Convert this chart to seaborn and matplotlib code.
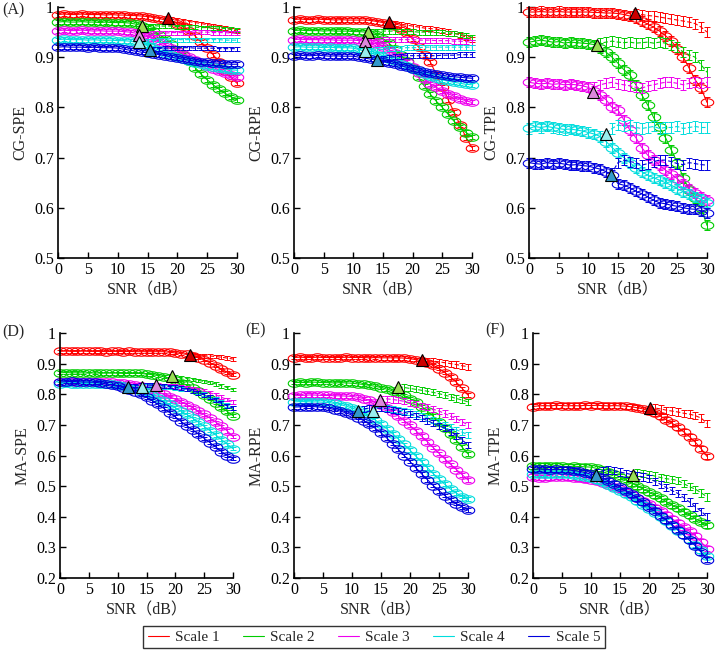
import numpy as np
import pandas as pd
import seaborn as sns
import matplotlib.pyplot as plt
from matplotlib.path import Path
from matplotlib.lines import Line2D

snr = list(range(31))
scales = ['Scale 1', 'Scale 2', 'Scale 3', 'Scale 4', 'Scale 5']
colors = ['#ff0000', '#00cc00', '#ee00ee', '#00dddd', '#0000dd']
tri_fill = ['#cc0000', '#99dd55', '#dd88dd', '#99eeee', '#3399cc']

# (A) CG-SPE
A_circ = [
    [0.985, 0.986, 0.985, 0.985, 0.986, 0.985, 0.985, 0.985, 0.984, 0.985, 0.984, 0.984, 0.983, 0.983, 0.982, 0.981,
     0.979, 0.977, 0.974, 0.972, 0.967, 0.962, 0.952, 0.942, 0.930, 0.918, 0.905, 0.890, 0.873, 0.860, 0.848],
    [0.970, 0.971, 0.970, 0.970, 0.971, 0.970, 0.970, 0.969, 0.970, 0.969, 0.969, 0.969, 0.968, 0.966, 0.963, 0.958,
     0.952, 0.945, 0.937, 0.927, 0.915, 0.904, 0.892, 0.879, 0.866, 0.855, 0.845, 0.836, 0.828, 0.821, 0.815],
    [0.953, 0.954, 0.953, 0.953, 0.954, 0.953, 0.952, 0.953, 0.952, 0.952, 0.952, 0.951, 0.950, 0.948, 0.945, 0.941,
     0.936, 0.930, 0.925, 0.919, 0.913, 0.907, 0.900, 0.894, 0.888, 0.882, 0.877, 0.872, 0.868, 0.864, 0.860],
    [0.935, 0.936, 0.935, 0.935, 0.935, 0.934, 0.935, 0.934, 0.934, 0.934, 0.933, 0.933, 0.932, 0.930, 0.927, 0.923,
     0.918, 0.914, 0.909, 0.905, 0.900, 0.896, 0.892, 0.889, 0.886, 0.883, 0.881, 0.879, 0.877, 0.875, 0.874],
    [0.920, 0.921, 0.920, 0.920, 0.920, 0.919, 0.920, 0.919, 0.919, 0.919, 0.918, 0.916, 0.914, 0.912, 0.910, 0.909,
     0.907, 0.905, 0.903, 0.900, 0.898, 0.896, 0.894, 0.892, 0.891, 0.890, 0.889, 0.888, 0.887, 0.886, 0.886],
]
A_dash = [
    [0.977, 0.975, 0.973, 0.971, 0.969, 0.967, 0.965, 0.963, 0.961, 0.958, 0.955, 0.952],
    [0.963, 0.963, 0.962, 0.962, 0.962, 0.961, 0.961, 0.960, 0.960, 0.959, 0.959, 0.958, 0.958, 0.957, 0.956, 0.955],
    [0.946, 0.947, 0.948, 0.948, 0.948, 0.949, 0.949, 0.949, 0.949, 0.950, 0.950, 0.950, 0.949, 0.949, 0.949, 0.948, 0.948],
    [0.931, 0.932, 0.933, 0.934, 0.934, 0.935, 0.935, 0.935, 0.935, 0.935, 0.935, 0.935, 0.935, 0.935, 0.934, 0.934, 0.934],
    [0.916, 0.917, 0.918, 0.918, 0.919, 0.919, 0.919, 0.918, 0.918, 0.918, 0.918, 0.917, 0.917, 0.917, 0.917],
]
A_tri = [(18.5, 0.978), (14.0, 0.963), (13.5, 0.945), (13.5, 0.930), (15.5, 0.915)]

# (B) CG-RPE
B_circ = [
    [0.975, 0.976, 0.975, 0.975, 0.976, 0.975, 0.975, 0.974, 0.975, 0.974, 0.974, 0.974, 0.974, 0.973, 0.971, 0.969,
     0.966, 0.962, 0.956, 0.948, 0.936, 0.920, 0.905, 0.890, 0.865, 0.840, 0.815, 0.790, 0.765, 0.740, 0.720],
    [0.953, 0.954, 0.953, 0.953, 0.953, 0.952, 0.953, 0.952, 0.952, 0.952, 0.951, 0.951, 0.950, 0.948, 0.944, 0.937,
     0.928, 0.917, 0.905, 0.893, 0.878, 0.860, 0.842, 0.826, 0.812, 0.800, 0.786, 0.772, 0.760, 0.750, 0.742],
    [0.935, 0.936, 0.935, 0.935, 0.935, 0.934, 0.935, 0.934, 0.934, 0.934, 0.934, 0.933, 0.932, 0.930, 0.926, 0.921,
     0.915, 0.908, 0.900, 0.890, 0.880, 0.868, 0.857, 0.847, 0.840, 0.833, 0.827, 0.822, 0.817, 0.813, 0.810],
    [0.920, 0.921, 0.920, 0.920, 0.920, 0.919, 0.920, 0.919, 0.919, 0.919, 0.918, 0.915, 0.912, 0.908, 0.904, 0.900,
     0.896, 0.892, 0.887, 0.882, 0.877, 0.872, 0.867, 0.862, 0.858, 0.855, 0.852, 0.850, 0.848, 0.846, 0.845],
    [0.903, 0.904, 0.903, 0.903, 0.904, 0.903, 0.902, 0.903, 0.902, 0.902, 0.902, 0.900, 0.898, 0.896, 0.894, 0.891,
     0.889, 0.886, 0.883, 0.880, 0.877, 0.874, 0.871, 0.868, 0.866, 0.864, 0.862, 0.861, 0.860, 0.859, 0.858],
]
B_dash = [
    [0.968, 0.966, 0.964, 0.962, 0.960, 0.958, 0.957, 0.956, 0.954, 0.952, 0.948, 0.944, 0.940, 0.935],
    [0.951, 0.952, 0.952, 0.952, 0.952, 0.951, 0.951, 0.951, 0.950, 0.950, 0.950, 0.949, 0.949, 0.948, 0.947, 0.946,
     0.943, 0.940],
    [0.933, 0.934, 0.935, 0.935, 0.935, 0.935, 0.935, 0.935, 0.934, 0.934, 0.934, 0.933, 0.933, 0.933, 0.932, 0.932,
     0.931, 0.930],
    [0.914, 0.915, 0.916, 0.917, 0.918, 0.918, 0.919, 0.919, 0.919, 0.920, 0.920, 0.920, 0.920, 0.920, 0.920, 0.920,
     0.920, 0.920],
    [0.898, 0.900, 0.901, 0.902, 0.903, 0.903, 0.903, 0.903, 0.903, 0.903, 0.904, 0.904, 0.904, 0.905, 0.905, 0.905],
]
B_tri = [(16.0, 0.970), (12.5, 0.950), (12.0, 0.932), (12.0, 0.913), (14.0, 0.895)]

# (C) CG-TPE
C_circ = [
    [0.990, 0.990, 0.991, 0.990, 0.990, 0.991, 0.990, 0.990, 0.990, 0.990, 0.990, 0.989, 0.989, 0.988, 0.988, 0.987,
     0.985, 0.982, 0.978, 0.972, 0.966, 0.960, 0.952, 0.943, 0.932, 0.917, 0.900, 0.878, 0.855, 0.838, 0.810],
    [0.930, 0.932, 0.934, 0.932, 0.930, 0.931, 0.928, 0.930, 0.929, 0.928, 0.927, 0.925, 0.918, 0.910, 0.900, 0.888,
     0.875, 0.865, 0.845, 0.825, 0.805, 0.780, 0.760, 0.740, 0.715, 0.690, 0.660, 0.635, 0.620, 0.600, 0.565],
    [0.850, 0.848, 0.847, 0.848, 0.846, 0.847, 0.845, 0.846, 0.845, 0.843, 0.840, 0.832, 0.825, 0.815, 0.800, 0.795,
     0.775, 0.755, 0.740, 0.720, 0.705, 0.695, 0.685, 0.675, 0.667, 0.658, 0.648, 0.638, 0.630, 0.622, 0.615],
    [0.758, 0.762, 0.760, 0.762, 0.760, 0.758, 0.756, 0.757, 0.755, 0.753, 0.750, 0.747, 0.742, 0.732, 0.720, 0.710,
     0.700, 0.690, 0.680, 0.672, 0.665, 0.660, 0.655, 0.650, 0.645, 0.638, 0.632, 0.627, 0.622, 0.617, 0.610],
    [0.690, 0.688, 0.687, 0.690, 0.688, 0.689, 0.687, 0.685, 0.686, 0.684, 0.683, 0.680, 0.677, 0.672, 0.665, 0.648,
     0.645, 0.640, 0.633, 0.628, 0.622, 0.615, 0.610, 0.608, 0.605, 0.603, 0.600, 0.598, 0.597, 0.594, 0.590],
]
C_dash = [
    [0.987, 0.985, 0.983, 0.982, 0.980, 0.978, 0.976, 0.974, 0.972, 0.970, 0.967, 0.960, 0.950],
    [0.928, 0.930, 0.932, 0.930, 0.929, 0.930, 0.928, 0.929, 0.930, 0.928, 0.930, 0.928, 0.925, 0.920, 0.910, 0.905,
     0.900, 0.885, 0.870],
    [0.840, 0.845, 0.848, 0.850, 0.847, 0.845, 0.843, 0.840, 0.838, 0.843, 0.845, 0.848, 0.850, 0.850, 0.848, 0.845,
     0.848, 0.850, 0.848, 0.850],
    [0.758, 0.765, 0.762, 0.765, 0.760, 0.758, 0.760, 0.762, 0.758, 0.760, 0.760, 0.762, 0.758, 0.760, 0.762, 0.760,
     0.760],
    [0.670, 0.690, 0.695, 0.692, 0.690, 0.685, 0.688, 0.692, 0.695, 0.695, 0.692, 0.688, 0.686, 0.690, 0.688, 0.686,
     0.685],
]
C_tri = [(17.8, 0.988), (11.5, 0.925), (10.8, 0.830), (13.0, 0.748), (13.8, 0.665)]

# (D) MA-SPE
D_circ = [
    [0.940, 0.941, 0.940, 0.940, 0.941, 0.940, 0.940, 0.940, 0.939, 0.940, 0.940, 0.939, 0.940, 0.939, 0.939, 0.939,
     0.939, 0.939, 0.939, 0.937, 0.935, 0.933, 0.930, 0.926, 0.920, 0.912, 0.903, 0.893, 0.882, 0.872, 0.863],
    [0.870, 0.871, 0.870, 0.870, 0.870, 0.869, 0.870, 0.869, 0.869, 0.869, 0.869, 0.868, 0.868, 0.868, 0.868, 0.866,
     0.864, 0.861, 0.857, 0.852, 0.846, 0.838, 0.830, 0.820, 0.810, 0.798, 0.786, 0.772, 0.758, 0.744, 0.730],
    [0.840, 0.841, 0.840, 0.840, 0.840, 0.839, 0.840, 0.839, 0.839, 0.839, 0.838, 0.836, 0.834, 0.831, 0.827, 0.822,
     0.816, 0.808, 0.800, 0.792, 0.784, 0.775, 0.766, 0.756, 0.745, 0.734, 0.722, 0.709, 0.696, 0.680, 0.662],
    [0.835, 0.836, 0.835, 0.835, 0.835, 0.835, 0.834, 0.835, 0.834, 0.832, 0.829, 0.826, 0.822, 0.817, 0.811, 0.804,
     0.796, 0.787, 0.777, 0.767, 0.756, 0.745, 0.734, 0.722, 0.709, 0.695, 0.681, 0.667, 0.652, 0.637, 0.622],
    [0.840, 0.841, 0.842, 0.841, 0.840, 0.840, 0.839, 0.837, 0.834, 0.830, 0.826, 0.821, 0.815, 0.808, 0.800, 0.790,
     0.779, 0.767, 0.754, 0.740, 0.726, 0.711, 0.697, 0.684, 0.670, 0.656, 0.642, 0.628, 0.613, 0.600, 0.590],
]
D_dash = [
    [0.928, 0.927, 0.926, 0.925, 0.923, 0.921, 0.918, 0.915],
    [0.857, 0.854, 0.851, 0.848, 0.845, 0.842, 0.838, 0.834, 0.828, 0.822, 0.815],
    [0.830, 0.829, 0.828, 0.826, 0.824, 0.822, 0.819, 0.815, 0.810, 0.805, 0.798, 0.790, 0.783, 0.775],
    [0.826, 0.826, 0.825, 0.824, 0.822, 0.820, 0.818, 0.815, 0.811, 0.806, 0.800, 0.793, 0.785, 0.776, 0.766, 0.755],
    [0.826, 0.829, 0.830, 0.830, 0.830, 0.829, 0.827, 0.825, 0.823, 0.820, 0.816, 0.811, 0.805, 0.798, 0.790, 0.781,
     0.771, 0.762, 0.755],
]
D_tri = [(22.5, 0.928), (19.5, 0.860), (16.7, 0.830), (14.2, 0.825), (11.8, 0.823)]

# (E) MA-RPE
E_circ = [
    [0.920, 0.921, 0.920, 0.920, 0.921, 0.920, 0.920, 0.920, 0.920, 0.921, 0.920, 0.920, 0.920, 0.919, 0.920, 0.919,
     0.919, 0.919, 0.919, 0.918, 0.916, 0.913, 0.909, 0.903, 0.895, 0.884, 0.871, 0.856, 0.839, 0.819, 0.797],
    [0.838, 0.839, 0.838, 0.840, 0.839, 0.838, 0.838, 0.837, 0.838, 0.837, 0.836, 0.834, 0.832, 0.829, 0.826, 0.822,
     0.817, 0.811, 0.804, 0.796, 0.786, 0.774, 0.760, 0.745, 0.728, 0.710, 0.690, 0.670, 0.649, 0.627, 0.605],
    [0.795, 0.796, 0.797, 0.798, 0.797, 0.796, 0.796, 0.795, 0.795, 0.794, 0.793, 0.790, 0.786, 0.780, 0.773, 0.764,
     0.754, 0.742, 0.729, 0.714, 0.698, 0.681, 0.663, 0.645, 0.626, 0.607, 0.589, 0.571, 0.554, 0.537, 0.520],
    [0.775, 0.776, 0.776, 0.775, 0.775, 0.774, 0.773, 0.770, 0.766, 0.761, 0.755, 0.748, 0.739, 0.728, 0.716, 0.702,
     0.687, 0.671, 0.654, 0.636, 0.617, 0.598, 0.579, 0.560, 0.541, 0.523, 0.506, 0.490, 0.477, 0.466, 0.458],
    [0.758, 0.759, 0.760, 0.760, 0.759, 0.757, 0.754, 0.750, 0.745, 0.739, 0.732, 0.724, 0.714, 0.702, 0.689, 0.674,
     0.657, 0.639, 0.620, 0.600, 0.580, 0.560, 0.540, 0.521, 0.502, 0.485, 0.469, 0.455, 0.443, 0.432, 0.422],
]
E_dash = [
    [0.910, 0.908, 0.906, 0.903, 0.900, 0.897, 0.893, 0.890],
    [0.822, 0.819, 0.816, 0.813, 0.810, 0.806, 0.802, 0.797, 0.792, 0.786, 0.781, 0.775],
    [0.783, 0.785, 0.783, 0.780, 0.777, 0.772, 0.767, 0.762, 0.757, 0.751, 0.745, 0.737, 0.728, 0.720, 0.710, 0.700],
    [0.750, 0.755, 0.755, 0.752, 0.749, 0.745, 0.741, 0.736, 0.730, 0.723, 0.716, 0.708, 0.700, 0.692, 0.684, 0.676,
     0.668],
    [0.752, 0.755, 0.755, 0.754, 0.752, 0.749, 0.745, 0.741, 0.736, 0.730, 0.722, 0.714, 0.705, 0.697, 0.689, 0.678,
     0.665, 0.650, 0.635],
]
E_tri = [(22.0, 0.912), (18.0, 0.825), (14.8, 0.780), (13.6, 0.745), (11.0, 0.745)]

# (F) MA-TPE
F_circ = [
    [0.760, 0.762, 0.763, 0.762, 0.764, 0.763, 0.762, 0.763, 0.762, 0.764, 0.763, 0.764, 0.763, 0.762, 0.763, 0.762,
     0.761, 0.759, 0.756, 0.752, 0.746, 0.738, 0.728, 0.717, 0.705, 0.692, 0.677, 0.661, 0.643, 0.622, 0.597],
    [0.565, 0.567, 0.566, 0.565, 0.566, 0.565, 0.564, 0.565, 0.564, 0.563, 0.562, 0.558, 0.553, 0.547, 0.539, 0.530,
     0.520, 0.510, 0.500, 0.490, 0.480, 0.470, 0.460, 0.449, 0.438, 0.427, 0.416, 0.405, 0.394, 0.383, 0.372],
    [0.530, 0.528, 0.527, 0.529, 0.530, 0.530, 0.529, 0.528, 0.526, 0.523, 0.520, 0.516, 0.511, 0.505, 0.498, 0.490,
     0.481, 0.472, 0.462, 0.452, 0.441, 0.430, 0.418, 0.406, 0.393, 0.380, 0.366, 0.352, 0.338, 0.318, 0.295],
    [0.540, 0.541, 0.540, 0.539, 0.540, 0.540, 0.539, 0.537, 0.534, 0.530, 0.525, 0.519, 0.512, 0.504, 0.495, 0.485,
     0.474, 0.463, 0.451, 0.439, 0.426, 0.413, 0.399, 0.385, 0.370, 0.355, 0.340, 0.324, 0.308, 0.290, 0.272],
    [0.555, 0.556, 0.555, 0.554, 0.555, 0.554, 0.553, 0.551, 0.548, 0.544, 0.539, 0.533, 0.526, 0.518, 0.508, 0.497,
     0.485, 0.473, 0.460, 0.447, 0.433, 0.419, 0.404, 0.389, 0.373, 0.357, 0.340, 0.323, 0.305, 0.284, 0.260],
]
F_dash = [
    [0.755, 0.752, 0.748, 0.745, 0.742, 0.738, 0.735, 0.730, 0.722, 0.705],
    [0.545, 0.542, 0.538, 0.533, 0.528, 0.524, 0.522, 0.518, 0.508, 0.498, 0.490, 0.478, 0.465],
    [],
    [],
    [0.545, 0.550, 0.553, 0.550, 0.546, 0.542, 0.538, 0.534, 0.530, 0.524, 0.516, 0.506, 0.495, 0.485, 0.476, 0.462,
     0.448, 0.432, 0.418, 0.400],
]
F_tri = [(20.1, 0.755), (17.2, 0.537), None, None, (10.8, 0.537)]

# error bar half-widths (circle series, dashed series)
err_circ = [0.004, 0.004, 0.010, 0.005, 0.006, 0.008]
err_dash = [0.004, 0.005, 0.010, 0.006, 0.010, 0.012]

sns.set_theme(style='ticks')
plt.rcParams['font.family'] = ['Liberation Serif', 'Noto Sans CJK SC']

theta = np.linspace(0, 2 * np.pi, 41)
ellipse = Path(np.column_stack([np.cos(theta), 0.6 * np.sin(theta)]))

fig = plt.figure(figsize=(7.18, 6.52), dpi=100)
W, H = 718, 652


def px_axes(left, right, top, bottom):
    return fig.add_axes([left / W, 1 - bottom / H, (right - left) / W, (bottom - top) / H])


panels = [
    ('CG-SPE', A_circ, A_dash, A_tri, (58, 237, 7, 258), 0.5),
    ('CG-RPE', B_circ, B_dash, B_tri, (294, 472, 7, 258), 0.5),
    ('CG-TPE', C_circ, C_dash, C_tri, (529, 707, 7, 258), 0.5),
    ('MA-SPE', D_circ, D_dash, D_tri, (60, 233, 333, 578), 0.2),
    ('MA-RPE', E_circ, E_dash, E_tri, (294, 468, 333, 578), 0.2),
    ('MA-TPE', F_circ, F_dash, F_tri, (533, 707, 333, 578), 0.2),
]

for k, (name, circ, dash, tri, box, ylo) in enumerate(panels):
    ax = px_axes(*box)
    for i in range(5):
        c = colors[i]
        df = pd.DataFrame({'snr': snr, 'val': circ[i]})
        sns.lineplot(data=df, x='snr', y='val', ax=ax, color=c, lw=0.8, errorbar=None,
                     marker=ellipse, ms=9, mfc='none', mec=c, mew=0.8, clip_on=False)
        ax.errorbar(snr, circ[i], yerr=err_circ[k], fmt='none', ecolor=c, elinewidth=0.7,
                    capsize=2, capthick=0.7, clip_on=False)
        if tri[i] is None:
            continue
        d = dash[i]
        xd = snr[len(snr) - len(d):]
        dd = pd.DataFrame({'snr': [tri[i][0]] + xd, 'val': [tri[i][1]] + d})
        sns.lineplot(data=dd, x='snr', y='val', ax=ax, color=c, lw=0.8, errorbar=None,
                     linestyle=(0, (4, 2)), clip_on=False)
        ax.errorbar(xd, d, yerr=err_dash[k], fmt='none', ecolor=c, elinewidth=0.7,
                    capsize=2, capthick=0.7, clip_on=False)
    for i in range(5):
        if tri[i] is None:
            continue
        ax.plot(tri[i][0], tri[i][1], marker='^', ms=9, mfc=tri_fill[i], mec='black',
                mew=0.8, ls='none', zorder=10, clip_on=False)

    ax.set_xlim(0, 30)
    ax.set_ylim(ylo, 1)
    ax.set_xticks(range(0, 31, 5))
    yt = np.round(np.arange(ylo, 1.0001, 0.1), 1)
    ax.set_yticks(yt)
    ax.set_yticklabels([f'{v:g}' for v in yt])
    for s in ['top', 'right']:
        ax.spines[s].set_visible(False)
    for s in ['left', 'bottom']:
        ax.spines[s].set_linewidth(1.2)
        ax.spines[s].set_color('black')
    ax.tick_params(direction='in', length=4, width=1, labelsize=11.5, pad=3, colors='black')
    ax.set_xlabel('SNR（dB）', fontsize=11.5, labelpad=3)
    ax.set_ylabel(name, fontsize=11.5, labelpad=4)
    ax.set_facecolor('white')

for lab, x, y in [('(A)', 13, 10), ('(D)', 13, 332), ('(E)', 255, 330), ('(F)', 495, 330)]:
    fig.text(x / W, 1 - y / H, lab, ha='center', va='center', fontsize=11.5)

handles = [Line2D([], [], color=c, lw=0.8) for c in colors]
leg = fig.legend(handles, scales, loc='center', bbox_to_anchor=(374 / W, 1 - 637 / H), ncol=5,
                 frameon=True, fancybox=False, edgecolor='black', fontsize=11,
                 handlelength=1.4, columnspacing=1.5, borderpad=0.3, handletextpad=0.4)
leg.get_frame().set_linewidth(1.0)

fig.savefig('out.png', dpi=100, facecolor='white')
